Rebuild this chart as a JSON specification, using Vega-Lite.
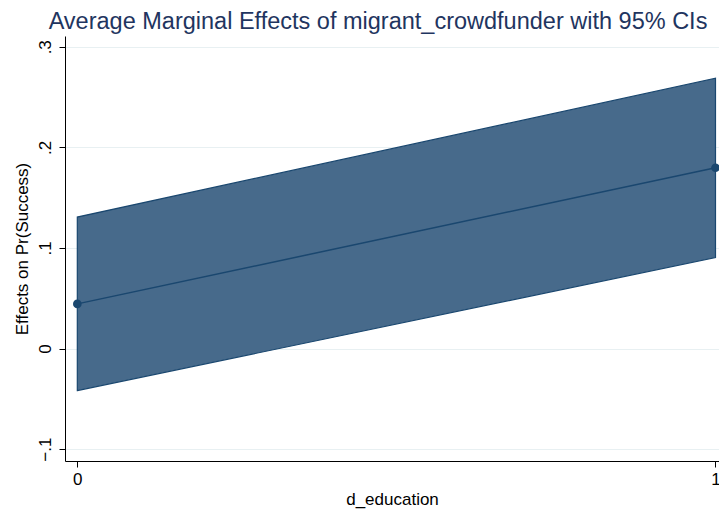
{
  "$schema": "https://vega.github.io/schema/vega-lite/v6.json",
  "autosize": "none",
  "width": 654,
  "height": 425,
  "padding": {"left": 65, "top": 36, "right": 0, "bottom": 51},
  "background": "white",
  "config": {
    "view": {"stroke": null},
    "font": "Liberation Sans"
  },
  "title": {
    "text": "Average Marginal Effects of migrant_crowdfunder with 95% CIs",
    "fontSize": 23.5,
    "fontWeight": "normal",
    "color": "#1f3560",
    "anchor": "middle",
    "dx": -14,
    "offset": 3
  },
  "data": {
    "values": [
      {"d_education": 0, "est": 0.0444, "lo": -0.0418, "hi": 0.1307},
      {"d_education": 1, "est": 0.1797, "lo": 0.0905, "hi": 0.2687}
    ]
  },
  "encoding": {
    "x": {
      "field": "d_education",
      "type": "quantitative",
      "scale": {"domain": [-0.0193, 1.0055], "nice": false, "zero": false},
      "axis": {
        "title": "d_education",
        "values": [0, 1],
        "format": "d",
        "grid": false,
        "domainColor": "black",
        "tickColor": "black",
        "tickSize": 6,
        "labelFontSize": 17,
        "labelColor": "black",
        "labelPadding": 4,
        "titleFontSize": 17,
        "titleFontWeight": "normal",
        "titleColor": "black",
        "titlePadding": 4,
        "labelFlush": false
      }
    }
  },
  "layer": [
    {
      "mark": {"type": "area", "fill": "#476a8b", "stroke": "#1a476f", "strokeWidth": 1.2, "opacity": 1},
      "encoding": {
        "y": {
          "field": "lo",
          "type": "quantitative",
          "scale": {"domain": [-0.1118, 0.3107], "nice": false, "zero": false},
          "axis": {
            "title": "Effects on Pr(Success)",
            "values": [-0.1, 0, 0.1, 0.2, 0.3],
            "labelExpr": "datum.value == 0 ? '0' : replace(format(datum.value, '.1f'), '0.', '.')",
            "labelAngle": -90,
            "labelAlign": "center",
            "labelBaseline": "bottom",
            "labelFontSize": 17,
            "labelColor": "black",
            "labelPadding": 5,
            "tickSize": 6,
            "tickColor": "black",
            "domainColor": "black",
            "grid": true,
            "gridColor": "#e8f0f2",
            "gridWidth": 1.2,
            "titleFontSize": 17,
            "titleFontWeight": "normal",
            "titleColor": "black",
            "titlePadding": 5
          }
        },
        "y2": {"field": "hi"}
      }
    },
    {
      "mark": {"type": "line", "color": "#1a476f", "strokeWidth": 1.5},
      "encoding": {"y": {"field": "est", "type": "quantitative"}}
    },
    {
      "mark": {"type": "point", "filled": true, "color": "#1a476f", "size": 75, "opacity": 1},
      "encoding": {"y": {"field": "est", "type": "quantitative"}}
    }
  ]
}
